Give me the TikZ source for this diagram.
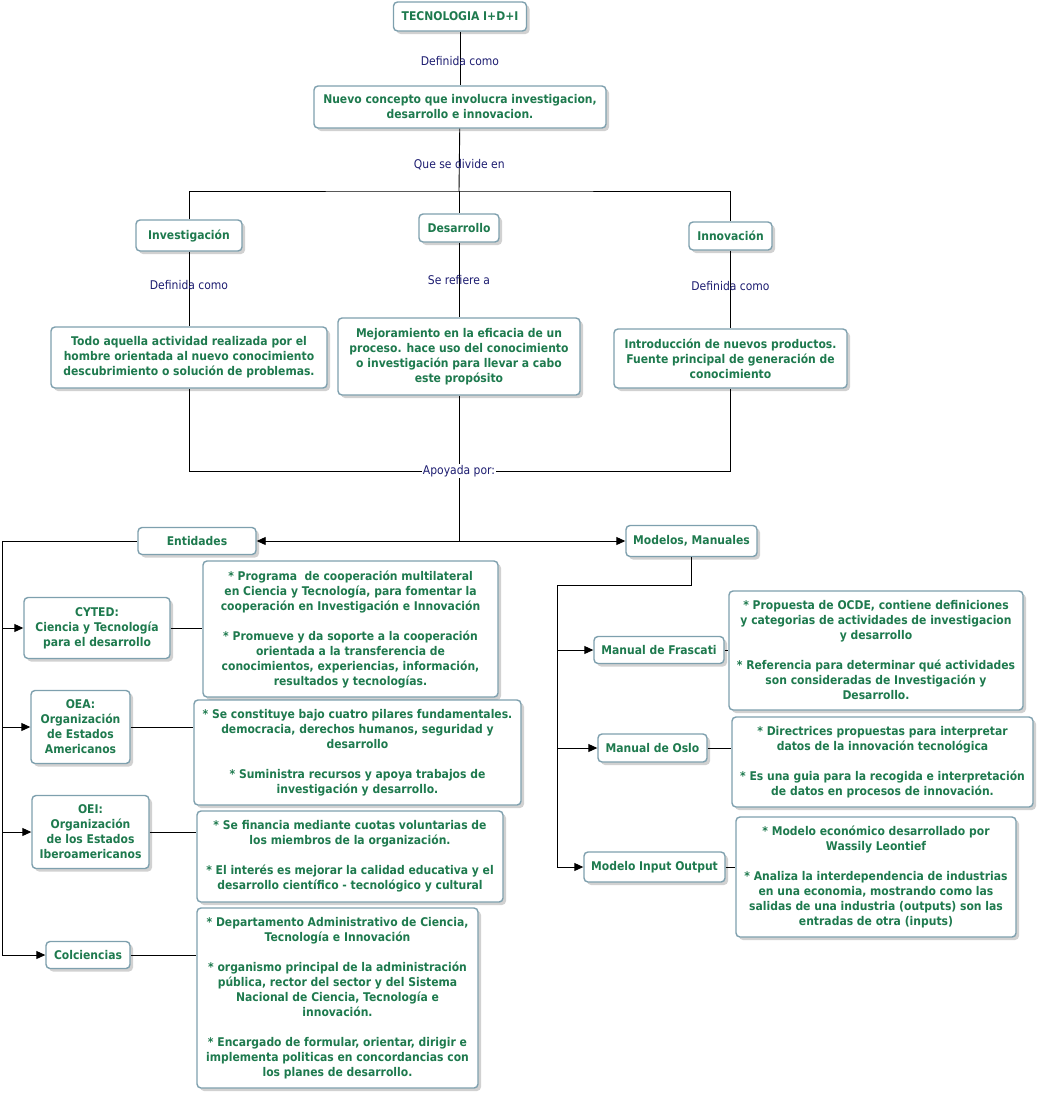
\documentclass[tikz,border=0pt]{standalone}
\usepackage{fontspec}
\setmainfont{DejaVu Sans}[FakeStretch=0.9]
\usepackage{tikz}
\usetikzlibrary{arrows.meta}
\usetikzlibrary{shadows}

\definecolor{verde}{RGB}{30,122,78}
\definecolor{azulino}{RGB}{28,28,112}
\definecolor{borde}{RGB}{126,160,174}

\tikzset{
	caja/.style={draw=borde, line width=1.4pt, rounded corners=4pt, fill=white, align=center, text=verde,
		font=\fontsize{12}{15}\selectfont\bfseries, inner sep=2pt,
		drop shadow={shadow xshift=3pt, shadow yshift=-3pt, fill=black!30, opacity=.6}},
	lbl/.style={text=azulino, font=\fontsize{12}{13}\selectfont, inner sep=1pt},
	linea/.style={line width=0.9pt, black},
	flecha/.style={linea, -{Triangle[length=9pt,width=8pt]}}
}

\begin{document}
\begin{tikzpicture}[x=1pt, y=-1pt]
			\useasboundingbox (0,0) rectangle (1040,1095);

			\node[caja, minimum width=133pt, minimum height=29pt] (tec) at (460,16.5) {TECNOLOGIA I+D+I};
			\node[caja, minimum width=292pt, minimum height=42pt] (nuevo) at (460,107) {Nuevo concepto que involucra investigacion,\\ desarrollo e innovacion.};

			\node[caja, minimum width=106pt, minimum height=31pt] (inv) at (189,235.5) {Investigación};
			\node[caja, minimum width=80pt, minimum height=28pt] (des) at (459,228) {Desarrollo};
			\node[caja, minimum width=83pt, minimum height=28pt] (inn) at (730.5,236) {Innovación};

			\node[caja, minimum width=276pt, minimum height=61pt] (invd) at (189,357.5) {Todo aquella actividad realizada por el\\ hombre orientada al nuevo conocimiento\\ descubrimiento o solución de problemas.};
			\node[caja, minimum width=242pt, minimum height=77pt] (desd) at (459,356.5) {Mejoramiento en la eficacia de un\\ proceso. hace uso del conocimiento\\ o investigación para llevar a cabo\\ este propósito};
			\node[caja, minimum width=233pt, minimum height=59pt] (innd) at (730.5,358.5) {Introducción de nuevos productos.\\ Fuente principal de generación de\\ conocimiento};

			\node[lbl, fill=white] (apoy) at (459,471) {Apoyada por:};
			\coordinate (split) at (459,191);
			\coordinate (hub) at (459,541);

			\node[caja, minimum width=118pt, minimum height=27pt] (ent) at (197,541) {Entidades};
			\node[caja, minimum width=131pt, minimum height=31pt] (mod) at (691.5,541) {Modelos, Manuales};

			\node[caja, minimum width=146pt, minimum height=61pt] (cyted) at (97,628) {CYTED:\\ Ciencia y Tecnología\\ para el desarrollo};
			\node[caja, minimum width=295pt, minimum height=136pt] (cytedd) at (350.5,629) {* Programa\ \ de cooperación multilateral\\ en Ciencia y Tecnología, para fomentar la\\ cooperación en Investigación e Innovación\\[15pt]* Promueve y da soporte a la cooperación\\ orientada a la transferencia de\\ conocimientos, experiencias, información,\\ resultados y tecnologías.};
			\node[caja, minimum width=99pt, minimum height=73pt] (oea) at (80.5,727) {OEA:\\ Organización\\ de Estados\\ Americanos};
			\node[caja, minimum width=327pt, minimum height=105pt] (oead) at (357.5,752.5) {* Se constituye bajo cuatro pilares fundamentales.\\ democracia, derechos humanos, seguridad y\\ desarrollo\\[15pt]* Suministra recursos y apoya trabajos de\\ investigación y desarrollo.};
			\node[caja, minimum width=117pt, minimum height=73pt] (oei) at (90.5,832) {OEI:\\ Organización\\ de los Estados\\ Iberoamericanos};
			\node[caja, minimum width=306pt, minimum height=91pt] (oeid) at (350,856.5) {* Se financia mediante cuotas voluntarias de\\ los miembros de la organización.\\[15pt]* El interés es mejorar la calidad educativa y el\\ desarrollo científico - tecnológico y cultural};
			\node[caja, minimum width=84pt, minimum height=27pt] (colc) at (88,955) {Colciencias};
			\node[caja, minimum width=281pt, minimum height=180pt] (colcd) at (337.5,998) {* Departamento Administrativo de Ciencia,\\ Tecnología e Innovación\\[15pt]* organismo principal de la administración\\ pública, rector del sector y del Sistema\\ Nacional de Ciencia, Tecnología e\\ innovación.\\[15pt]* Encargado de formular, orientar, dirigir e\\ implementa politicas en concordancias con\\ los planes de desarrollo.};

			\node[caja, minimum width=130pt, minimum height=27pt] (fra) at (659,650) {Manual de Frascati};
			\node[caja, minimum width=294pt, minimum height=119pt] (frad) at (876,650.5) {* Propuesta de OCDE, contiene definiciones\\ y categorias de actividades de investigacion\\ y desarrollo\\[15pt]* Referencia para determinar qué actividades\\ son consideradas de Investigación y\\ Desarrollo.};
			\node[caja, minimum width=109pt, minimum height=28pt] (oslo) at (652.5,748) {Manual de Oslo};
			\node[caja, minimum width=301pt, minimum height=90pt] (oslod) at (882.5,762) {* Directrices propuestas para interpretar\\ datos de la innovación tecnológica\\[15pt]* Es una guia para la recogida e interpretación\\ de datos en procesos de innovación.};
			\node[caja, minimum width=141pt, minimum height=30pt] (io) at (654.5,867) {Modelo Input Output};
			\node[caja, minimum width=280pt, minimum height=120pt] (iod) at (876,877) {* Modelo económico desarrollado por\\ Wassily Leontief\\[15pt]* Analiza la interdependencia de industrias\\ en una economia, mostrando como las\\ salidas de una industria (outputs) son las\\ entradas de otra (inputs)};

			\coordinate (rail) at (2,541);
			\coordinate (mrail) at (557,585);

			\draw[linea] (tec) -- node[lbl, pos=0.55] {Definida como} (nuevo);
			\draw[linea] (nuevo) -- node[lbl, pos=0.58] {Que se divide en} (split);
			\draw[linea] (inv.north) |- (split) -| (inn.north);
			\draw[linea] (split) -- (des);
			\draw[linea] (inv) -- node[lbl, pos=0.45] {Definida como} (invd);
			\draw[linea] (des) -- node[lbl] {Se refiere a} (desd);
			\draw[linea] (inn) -- node[lbl, pos=0.45] {Definida como} (innd);
			\draw[linea] (invd.south) |- (apoy.west);
			\draw[linea] (innd.south) |- (apoy.east);
			\draw[linea] (desd) -- (apoy);
			\draw[linea] (apoy) -- (hub);
			\draw[flecha] (hub) -- (ent.east);
			\draw[flecha] (hub) -- (mod.west);
			\draw[flecha] (ent.west) -- (rail) |- (colc.west);
			\foreach \n in {cyted, oea, oei}
				\draw[flecha] (rail |- \n.west) -- (\n.west);
			\draw[flecha] (mod.south) |- (mrail) |- (io.west);
			\foreach \n in {fra, oslo}
				\draw[flecha] (mrail |- \n.west) -- (\n.west);
			\foreach \a/\b in {cyted/cytedd, oea/oead, oei/oeid, colc/colcd, fra/frad, oslo/oslod, io/iod}
				\draw[linea] (\a.east) -- (\a.east -| \b.west);
\end{tikzpicture}
\end{document}
